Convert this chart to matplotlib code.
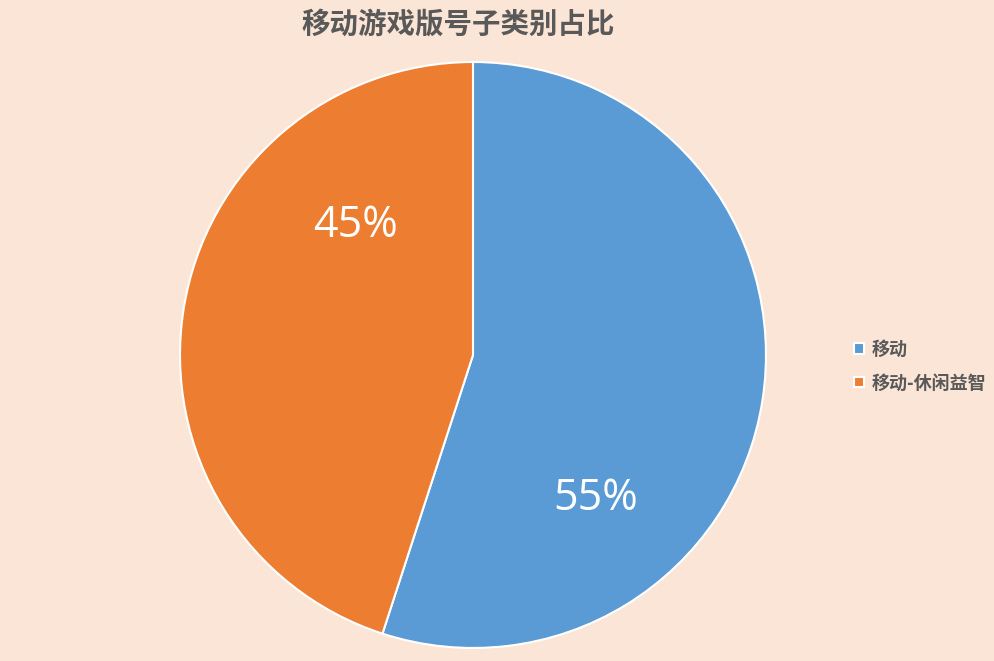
import matplotlib
matplotlib.use("Agg")
import matplotlib.pyplot as plt
import numpy as np

categories = ["移动", "移动-休闲益智"]
values = [55, 45]
colors = ["#5B9BD5", "#ED7D31"]
title = "移动游戏版号子类别占比"

plt.rcParams['font.family'] = ['Noto Sans CJK SC', 'DejaVu Sans']

bg = "#FBE5D6"
fig = plt.figure(figsize=(9.94, 6.61), dpi=100, facecolor=bg)
ax = fig.add_axes([0.1811, 0.0197, 0.5895, 0.8865])
ax.set_facecolor(bg)

wedges, _ = ax.pie(values, colors=colors, startangle=90, counterclock=False,
                   radius=1.0, wedgeprops=dict(edgecolor="white", linewidth=1.5))
ax.set_xlim(-1, 1)
ax.set_ylim(-1, 1)
ax.set_aspect("equal")
ax.axis("off")

# percentage labels (positions in axis units relative to pie)
label_pos = [(0.42, -0.49), (-0.40, 0.44)]
for v, (x, y) in zip(values, label_pos):
    ax.text(x, y, f"{v}%", ha="center", va="center", color="white",
            fontsize=31, family=['Open Sans', 'DejaVu Sans'])

fig.text(0.461, 0.963, title, ha="center", va="center", fontsize=20.5,
         fontweight="bold", color="#595959")

leg = fig.legend(wedges, categories, loc="center left",
                 bbox_to_anchor=(0.852, 0.446), frameon=False,
                 handlelength=0.55, handleheight=0.55, handletextpad=0.4,
                 labelspacing=0.8, fontsize=13, borderaxespad=0.0)
for t in leg.get_texts():
    t.set_color("#595959")
    t.set_fontweight("bold")

fig.savefig("out.png", dpi=100, facecolor=bg)
